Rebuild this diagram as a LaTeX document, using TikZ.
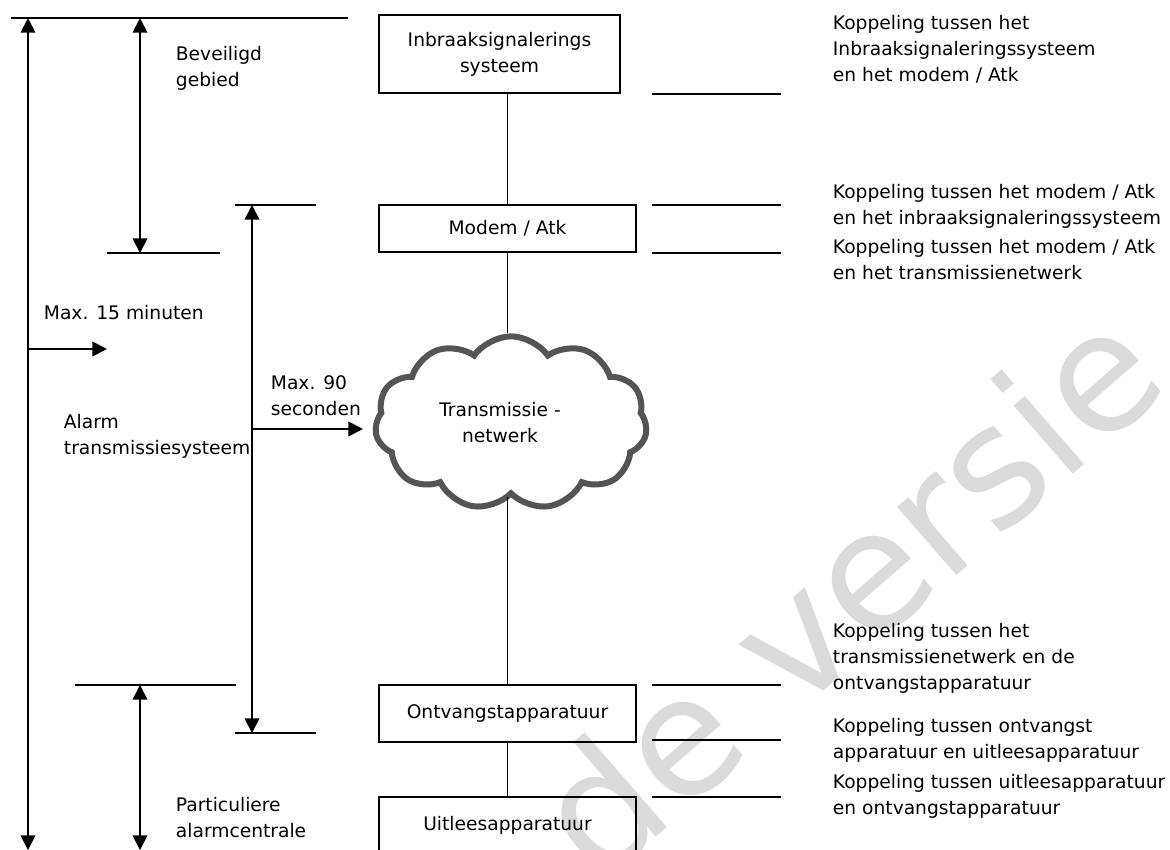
\documentclass[tikz,border=0pt]{standalone}
\usepackage{fontspec}
\setmainfont{DejaVu Sans}
\usetikzlibrary{arrows.meta, shapes.symbols}

\begin{document}
\begin{tikzpicture}[x=0.75pt, y=-0.75pt, line width=1.4pt,
    >={Triangle[length=11pt,width=11pt]},
    every node/.style={font=\fontsize{14}{19.5}\selectfont, inner sep=0pt},
    box/.style={draw, line width=1.4pt, minimum width=192.75pt, minimum height=42.75pt},
    note/.style={anchor=base west, align=left},
    net/.style={cloud, cloud puffs=11, cloud puff arc=110, cloud ignores aspect,
      draw=black!67, line width=4.5pt, fill=white, minimum width=204pt, minimum height=130pt},
    wmark/.style={font=\fontsize{124}{124}\selectfont, text=gray!28, rotate=41}]
  \useasboundingbox (0,0) rectangle (1170,849);

  % watermark
  \node[wmark] (wm) at (846,590) {de versie};

  % chain of devices
  \node[box, minimum width=180.75pt, minimum height=58.5pt, align=center] (ias) at (499.5,54) {Inbraaksignalerings\\systeem};
  \node[box, minimum height=35.25pt] (modem) at (507.5,228.5) {Modem / Atk};
  \node[net] (net) at (511,423) {};
  \node[align=center] (nettxt) at (500,423) {Transmissie -\\netwerk};
  \node[box] (ontv) at (507.5,713.5) {Ontvangstapparatuur};
  \node[box] (uitl) at (507.5,825.5) {Uitleesapparatuur};

  \draw (modem.north) -- (modem.north |- ias.south);
  \draw (modem.south) -- (modem.south |- net.north);
  \draw (ontv.north) -- (ontv.north |- net.south);
  \draw (ontv.south) -- (uitl.north);

  % limits
  \coordinate (t1) at (11,18);   \coordinate (t2) at (348,18);
  \coordinate (b1) at (107,253); \coordinate (b2) at (220,253);
  \coordinate (m1) at (235,205); \coordinate (m2) at (316,205);
  \coordinate (p1) at (75,685);  \coordinate (p2) at (236,685);
  \coordinate (o1) at (235,733); \coordinate (o2) at (316,733);
  \draw (t1) -- (t2);
  \draw (b1) -- (b2);
  \draw (m1) -- (m2);
  \draw (p1) -- (p2);
  \draw (o1) -- (o2);

  % time spans
  \coordinate (ltop) at (28,18);  \coordinate (lbot) at (28,850);
  \coordinate (lmid) at (28,349); \coordinate (lend) at (107,349);
  \coordinate (btop) at (140,18); \coordinate (bbot) at (140,253);
  \coordinate (atop) at (252,205); \coordinate (abot) at (252,733);
  \coordinate (amid) at (252,429); \coordinate (aend) at (363,429);
  \coordinate (ptop) at (140,685); \coordinate (pbot) at (140,850);
  \draw[<->] (ltop) -- (lbot);
  \draw[->] (lmid) -- (lend);
  \draw[<->] (btop) -- (bbot);
  \draw[<->] (atop) -- (abot);
  \draw[->] (amid) -- (aend);
  \draw[<->] (ptop) -- (pbot);

  % base is the last line
  \node[note] (bev) at (175,86) {Beveiligd\\gebied};
  \node[note] (max15) at (43,319) {Max. 15 minuten};
  \node[note] (ats) at (63,454) {Alarm\\transmissiesysteem};
  \node[note] (max90) at (270,415) {Max. 90\\seconden};
  \node[note] (pac) at (175,837) {Particuliere\\alarmcentrale};

  % interfaces
  \foreach \y in {94,205,253,685,740,797}
    \draw (652,\y) -- (781,\y);
  \node[note] (k1) at (832,81) {Koppeling tussen het\\Inbraaksignaleringssysteem\\en het modem / Atk};
  \node[note] (k2) at (832,224) {Koppeling tussen het modem / Atk\\en het inbraaksignaleringssysteem};
  \node[note] (k3) at (832,279) {Koppeling tussen het modem / Atk\\en het transmissienetwerk};
  \node[note] (k4) at (832,689) {Koppeling tussen het\\transmissienetwerk en de\\ontvangstapparatuur};
  \node[note] (k5) at (832,758) {Koppeling tussen ontvangst\\apparatuur en uitleesapparatuur};
  \node[note] (k6) at (832,814) {Koppeling tussen uitleesapparatuur\\en ontvangstapparatuur};
\end{tikzpicture}
\end{document}
